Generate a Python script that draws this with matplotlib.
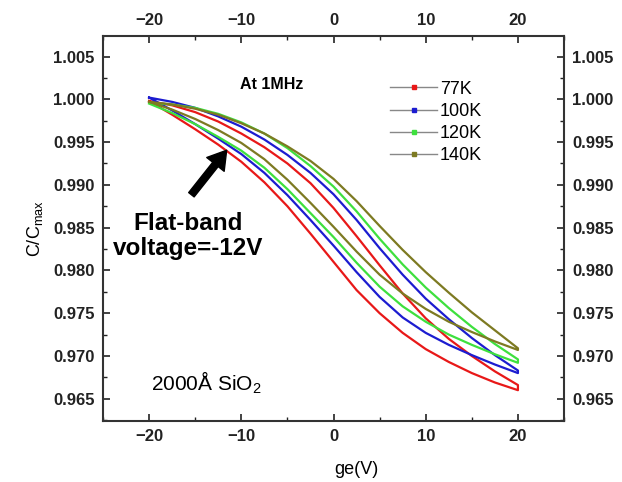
import matplotlib
matplotlib.use("Agg")
import matplotlib.pyplot as plt
from matplotlib.lines import Line2D
from matplotlib.ticker import MultipleLocator, FormatStrFormatter

plt.rcParams['font.family'] = ['Liberation Sans', 'DejaVu Sans']
plt.rcParams['mathtext.fontset'] = 'custom'
plt.rcParams['mathtext.rm'] = 'Liberation Sans'

# gate voltage grid (V) for each sweep branch
volts = [-20, -17.5, -15, -12.5, -10, -7.5, -5, -2.5, 0,
         2.5, 5, 7.5, 10, 12.5, 15, 17.5, 20]

temps = ["77K", "100K", "120K", "140K"]
colors = ["#e81818", "#1c1cd0", "#3ee03e", "#7d7a22"]

# forward sweep (-20 -> 20), lower branch
c77_fwd = [0.9998, 0.9982, 0.9965, 0.9947, 0.9927, 0.9903, 0.9875, 0.9843, 0.9810,
           0.9777, 0.9750, 0.9727, 0.9708, 0.9693, 0.9680, 0.9669, 0.9660]
c100_fwd = [1.0002, 0.9987, 0.9971, 0.9954, 0.9936, 0.9914, 0.9888, 0.9859, 0.9829,
            0.9798, 0.9769, 0.9745, 0.9727, 0.9713, 0.9701, 0.9690, 0.9680]
c120_fwd = [0.9995, 0.9984, 0.9971, 0.9956, 0.9940, 0.9920, 0.9895, 0.9867, 0.9839,
            0.9809, 0.9781, 0.9758, 0.9740, 0.9725, 0.9713, 0.9702, 0.9692]
c140_fwd = [0.9997, 0.9988, 0.9977, 0.9964, 0.9949, 0.9930, 0.9906, 0.9879, 0.9851,
            0.9822, 0.9795, 0.9773, 0.9755, 0.9740, 0.9728, 0.9717, 0.9707]

# reverse sweep, upper branch (listed on the same voltage grid)
c77_rev = [0.9998, 0.9993, 0.9985, 0.9974, 0.9960, 0.9944, 0.9925, 0.9902, 0.9873,
           0.9840, 0.9806, 0.9773, 0.9744, 0.9720, 0.9700, 0.9682, 0.9666]
c100_rev = [1.0002, 0.9997, 0.9990, 0.9980, 0.9968, 0.9953, 0.9935, 0.9914, 0.9889,
            0.9859, 0.9826, 0.9795, 0.9767, 0.9743, 0.9721, 0.9701, 0.9683]
c120_rev = [0.9996, 0.9994, 0.9990, 0.9983, 0.9973, 0.9960, 0.9943, 0.9922, 0.9898,
            0.9869, 0.9837, 0.9807, 0.9780, 0.9756, 0.9734, 0.9714, 0.9696]
c140_rev = [0.9997, 0.9994, 0.9989, 0.9982, 0.9972, 0.9960, 0.9945, 0.9928, 0.9907,
            0.9881, 0.9852, 0.9824, 0.9798, 0.9774, 0.9751, 0.9730, 0.9709]

fwd = [c77_fwd, c100_fwd, c120_fwd, c140_fwd]
rev = [c77_rev, c100_rev, c120_rev, c140_rev]

fig = plt.figure(figsize=(6.22, 4.82), dpi=100)
ax = fig.add_axes([0.1656, 0.1266, 0.7412, 0.7987])

# each loop: forward sweep then back along the upper branch
for c, f, r in zip(colors, fwd, rev):
    xs = volts + volts[::-1]
    ys = f + r[::-1]
    ax.plot(xs, ys, color=c, lw=1.6, solid_joinstyle='round')

ax.set_xlim(-25, 25)
ax.set_ylim(0.9624, 1.0074)
ax.xaxis.set_major_locator(MultipleLocator(10))
ax.xaxis.set_minor_locator(MultipleLocator(5))
ax.yaxis.set_major_locator(MultipleLocator(0.005))
ax.yaxis.set_minor_locator(MultipleLocator(0.0025))
ax.yaxis.set_major_formatter(FormatStrFormatter('%.3f'))
ax.tick_params(which='both', direction='in', top=True, right=True,
               labeltop=True, labelright=True, colors='#222222')
ax.tick_params(which='major', length=5, width=1.2, labelsize=12, pad=6)
ax.tick_params(which='minor', length=3, width=1.0)
for t in ax.xaxis.get_major_ticks() + ax.yaxis.get_major_ticks():
    t.label1.set_fontweight('bold')
    t.label2.set_fontweight('bold')
for s in ax.spines.values():
    s.set_linewidth(1.5)
    s.set_color('#333333')

ax.set_ylabel("C/C$\\mathregular{_{max}}$", fontsize=13, labelpad=6)
fig.text(356 / 622, 1 - 469 / 482, "ge(V)", fontsize=13, ha='center', va='center')

ax.text(-6.7, 1.0017, "At 1MHz", fontsize=11.5, fontweight='bold', ha='center', va='center')
ax.text(-15.8, 0.9840, "Flat-band\nvoltage=-12V", fontsize=17.5, fontweight='bold',
        ha='center', va='center', linespacing=1.1)
ax.annotate("", xy=(-11.4, 0.99430), xytext=(-15.6, 0.98859),
            arrowprops=dict(arrowstyle="simple,head_length=1.3,head_width=1.6,tail_width=0.5",
                            color='black'))
ax.text(-13.8, 0.9669, "2000Å SiO$\\mathregular{_2}$", fontsize=15, ha='center', va='center')

handles = [Line2D([], [], color='#888888', lw=1.0, marker='s', markersize=2.5,
                  markerfacecolor=c, markeredgecolor=c) for c in colors]
ax.legend(handles, temps, loc='upper left', bbox_to_anchor=(0.623, 0.884), frameon=False,
          fontsize=13, handlelength=2.6, handletextpad=0.15, labelspacing=0.29,
          borderpad=0, borderaxespad=0)

fig.savefig("out.png", dpi=100)
